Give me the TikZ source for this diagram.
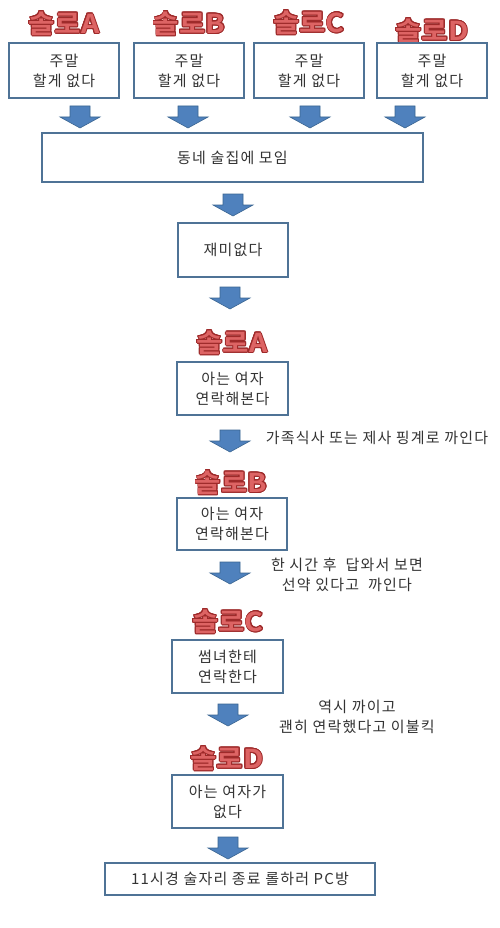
\documentclass[tikz,border=0pt]{standalone}
\usepackage{fontspec}
\setmainfont{Noto Sans CJK KR}
\newfontfamily\boxfont[LetterSpace=8]{Noto Sans CJK KR}
\newfontfamily\solofont[FakeStretch=1.1]{Noto Sans CJK KR Bold}
\usepackage[copies]{contour}
\contourlength{0.9pt}

\definecolor{boxline}{HTML}{4F7396}
\definecolor{arrowfill}{HTML}{4F81BD}
\definecolor{arrowline}{HTML}{3A6591}
\definecolor{solofill}{HTML}{DD6464}
\definecolor{soloedge}{HTML}{9E2A2A}
\definecolor{textgray}{HTML}{333333}

\tikzset{
  stepbox/.style = {draw=boxline, line width=1.3pt, fill=white, align=center,
                    text=textgray, inner sep=0pt,
                    font=\boxfont\fontsize{15}{20}\selectfont},
  sidenote/.style = {align=center, text=textgray, inner sep=0pt,
                     font=\boxfont\fontsize{15}{20}\selectfont},
  solo/.style     = {inner sep=0pt, font=\solofont\fontsize{26}{26}\selectfont},
  pics/blockarrow/.style = {code={
    \fill[draw=arrowline, fill=arrowfill, line width=0.6pt]
      (-10,-11) -- (10,-11) -- (10,0) -- (20,0) -- (0,11)
             -- (-20,0) -- (-10,0) -- cycle;
  }},
}
\newcommand\sololabel[1]{\contour{soloedge}{\textcolor{solofill}{#1}}}

\begin{document}
\begin{tikzpicture}[x=1pt, y=-1pt]
\useasboundingbox[fill=white] (0,0) rectangle (500,928);

% four people, one weekend
\foreach \who/\x/\ax/\ly in {A/64/80/24, B/189/188/24, C/309/310/23, D/432/405/31}{
  \node[solo] (solo\who) at (\x,\ly) {\sololabel{솔로\who}};
  \node[stepbox, minimum width=110pt, minimum height=55pt] (weekend\who) at (\x,70.5)
    {주말\\할게 없다};
  \pic (arr\who) at (\ax,117) {blockarrow};
}

\node[stepbox, minimum width=381pt, minimum height=49pt] (pub) at (232.5,157.5)
  {동네 술집에 모임};
\pic (arrpub) at (233,205) {blockarrow};
\node[stepbox, minimum width=110pt, minimum height=54pt] (boring) at (233,250)
  {재미없다};
\pic (arrboring) at (230,298) {blockarrow};

% one after another
\node[solo] (callA) at (232,343) {\sololabel{솔로A}};
\node[stepbox, minimum width=111pt, minimum height=53pt] (tryA) at (232.5,388.5)
  {아는 여자\\연락해본다};
\pic (arrA2) at (230,441) {blockarrow};
\node[sidenote] (failA) at (377,438) {가족식사 또는 제사 핑계로 까인다};

\node[solo] (callB) at (231,483) {\sololabel{솔로B}};
\node[stepbox, minimum width=110pt, minimum height=52pt] (tryB) at (232,524)
  {아는 여자\\연락해본다};
\pic (arrB2) at (230,573) {blockarrow};
\node[sidenote] (failB) at (347,575) {한 시간 후 \ 답와서 보면\\선약 있다고 \ 까인다};

\node[solo] (callC) at (228,622) {\sololabel{솔로C}};
\node[stepbox, minimum width=111pt, minimum height=53pt] (tryC) at (227.5,666.5)
  {썸녀한테\\연락한다};
\pic (arrC2) at (228,715) {blockarrow};
\node[sidenote] (failC) at (357,717) {역시 까이고\\괜히 연락했다고 이불킥};

\node[solo] (callD) at (227,759) {\sololabel{솔로D}};
\node[stepbox, minimum width=111pt, minimum height=53pt] (tryD) at (227.5,801.5)
  {아는 여자가\\없다};
\pic (arrD2) at (228,848) {blockarrow};

\node[stepbox, minimum width=270pt, minimum height=32pt] (pcbang) at (240,879)
  {11시경 술자리 종료 롤하러 PC방};
\end{tikzpicture}
\end{document}
